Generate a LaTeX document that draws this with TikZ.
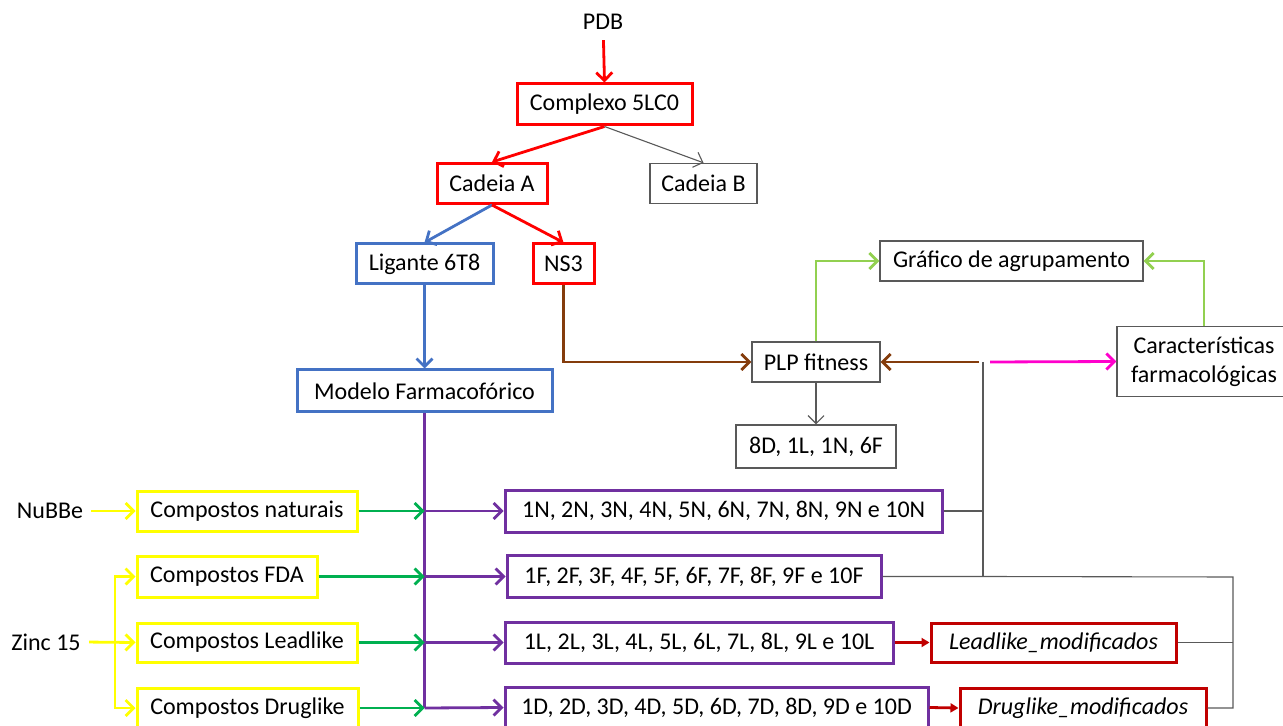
\documentclass[tikz,border=0pt]{standalone}
\usepackage{fontspec}
\setmainfont{Carlito}
\usetikzlibrary{arrows.meta}
\definecolor{cred}{HTML}{FF0000}
\definecolor{cblue}{HTML}{4472C4}
\definecolor{cbrown}{HTML}{843C0C}
\definecolor{clgreen}{HTML}{92D050}
\definecolor{cpink}{HTML}{FF00CC}
\definecolor{cyellow}{HTML}{FFFF00}
\definecolor{cgreen}{HTML}{00B050}
\definecolor{cpurple}{HTML}{7030A0}
\definecolor{cdred}{HTML}{C00000}
\definecolor{cgray}{HTML}{595959}
\tikzset{
  box/.style={draw, line width=1.5pt, inner sep=0pt, align=center, font=\fontsize{12}{14.5}\selectfont},
  thinbox/.style={draw=cgray, line width=0.7pt, inner sep=0pt, align=center, font=\fontsize{12}{14.5}\selectfont},
  lbl/.style={inner sep=1pt, font=\fontsize{12}{14.5}\selectfont},
  tip/.style={-{Straight Barb[length=4pt,width=8pt]}},
  ln/.style={line width=1.4pt},
  thinln/.style={draw=cgray, line width=0.55pt},
}
\begin{document}
\begin{tikzpicture}[x=0.5pt,y=-0.5pt]
\useasboundingbox (0,0) rectangle (1283,726);
% top tree
\node[lbl] (pdb) at (603,22) {PDB};
\node[box, draw=cred, minimum width=87.5pt, minimum height=20.5pt] (cplx) at (604.5,104.5) {Complexo 5LC0};
\node[box, draw=cred, minimum width=55pt, minimum height=20pt] (cadA) at (492,183.5) {Cadeia A};
\node[thinbox, minimum width=53.5pt, minimum height=20pt] (cadB) at (703.5,183.5) {Cadeia B};
\node[box, draw=cblue, minimum width=68.5pt, minimum height=20pt] (lig) at (424.5,264) {Ligante 6T8};
\node[box, draw=cred, minimum width=30.5pt, minimum height=20pt] (ns3) at (563.5,264) {NS3};
\node[box, draw=cblue, minimum width=127.5pt, minimum height=21pt] (modelo) at (424.5,391) {Modelo Farmacofórico};
% right part
\node[thinbox, minimum width=64pt, minimum height=20pt] (plp) at (816,362) {PLP fitness};
\node[thinbox, minimum width=131.5pt, minimum height=20pt] (graf) at (1011.5,261) {Gráfico de agrupamento};
\node[thinbox, minimum width=87pt, minimum height=35pt] (carac) at (1204,361.5) {Características\\farmacológicas};
\node[thinbox, minimum width=80pt, minimum height=21.5pt] (p8d) at (816,446.5) {8D, 1L, 1N, 6F};
% left part
\node[lbl] (nubbe) at (50,511) {NuBBe};
\node[lbl] (zinc) at (46,642) {Zinc 15};
\node[box, draw=cyellow, minimum width=110pt, minimum height=20pt] (cn) at (247,511) {Compostos naturais};
\node[box, draw=cyellow, minimum width=90pt, minimum height=20.5pt] (cf) at (227,576.5) {Compostos FDA};
\node[box, draw=cyellow, minimum width=110pt, minimum height=19.5pt] (cl) at (247,642.5) {Compostos Leadlike};
\node[box, draw=cyellow, minimum width=110.5pt, minimum height=20pt] (cd) at (247.5,708) {Compostos Druglike};
% result boxes
\node[box, draw=cpurple, minimum width=218.5pt, minimum height=21pt] (rn) at (723.5,511) {1N, 2N, 3N, 4N, 5N, 6N, 7N, 8N, 9N e 10N};
\node[box, draw=cpurple, minimum width=187pt, minimum height=21pt] (rf) at (694,576.5) {1F, 2F, 3F, 4F, 5F, 6F, 7F, 8F, 9F e 10F};
\node[box, draw=cpurple, minimum width=194pt, minimum height=20.5pt] (rl) at (699,642.5) {1L, 2L, 3L, 4L, 5L, 6L, 7L, 8L, 9L e 10L};
\node[box, draw=cpurple, minimum width=211.5pt, minimum height=20.5pt] (rd) at (716.5,707.5) {1D, 2D, 3D, 4D, 5D, 6D, 7D, 8D, 9D e 10D};
\node[box, draw=cdred, minimum width=122.5pt, minimum height=19.5pt] (lm) at (1053.5,642.5) {\textit{Leadlike\_modificados}};
\node[box, draw=cdred, minimum width=123pt, minimum height=20pt] (dm) at (1083,708) {\textit{Druglike\_modificados}};
% junction coordinates
\coordinate (j) at (983,362);
\coordinate (jb) at (979,362);
\coordinate (jp) at (990,362);
\coordinate (k) at (1233,577);
\coordinate (zb) at (115,642);
% top connectors
\draw[ln, tip, cred, shorten <=4pt] (pdb) -- (cplx.north);
\draw[ln, tip, cred] (cplx.south) -- (cadA.north);
\draw[thinln, tip] (cplx.south) -- (cadB.north);
\draw[ln, tip, cblue] (cadA.south) -- (lig.north);
\draw[ln, tip, cred] (cadA.south) -- (ns3.north);
\draw[ln, tip, cblue] (lig.south) -- (modelo.north);
\draw[ln, tip, cbrown] (ns3.south) |- (plp.west);
\draw[ln, tip, clgreen] (plp.north) |- (graf.west);
\draw[ln, tip, clgreen] (carac.north) |- (graf.east);
\draw[ln, tip, cbrown] (jb) -- (plp.east);
\draw[ln, tip, cpink] (jp) -- (carac.west);
\draw[thinln, tip] (plp.south) -- (p8d.north);
% left connectors
\draw[ln, tip, cyellow, shorten <=3pt] (nubbe.east) -- (cn.west);
\draw[ln, tip, cyellow, shorten <=3pt] (zinc.east) -- (cl.west);
\draw[ln, tip, cyellow] (zb) |- (cf.west);
\draw[ln, tip, cyellow] (zb) |- (cd.west);
% purple spine
\draw[ln, cpurple] (modelo.south) -- (modelo.south |- cd.east);
\foreach \s/\r in {cn/rn, cf/rf, cl/rl, cd/rd}{
  \draw[ln, tip, cgreen] (\s.east) -- (\s.east -| modelo.south);
  \draw[ln, tip, cpurple] (\s.east -| modelo.south) -- (\r.west);
}
% red to modified
\draw[ln, cdred, -{Triangle[length=4pt,width=4.5pt]}] (rl.east) -- (lm.west);
\draw[ln, cdred, -{Triangle[length=4pt,width=4.5pt]}] (rd.east) -- (dm.west);
% black collector lines
\draw[thinln] (j) -- (j |- rf.east);
\draw[thinln] (rn.east) -- (rn.east -| j);
\draw[thinln] (rf.east) -- (j |- rf.east) -- (k) |- (dm.east);
\draw[thinln] (lm.east) -- (lm.east -| k);
\end{tikzpicture}
\end{document}
